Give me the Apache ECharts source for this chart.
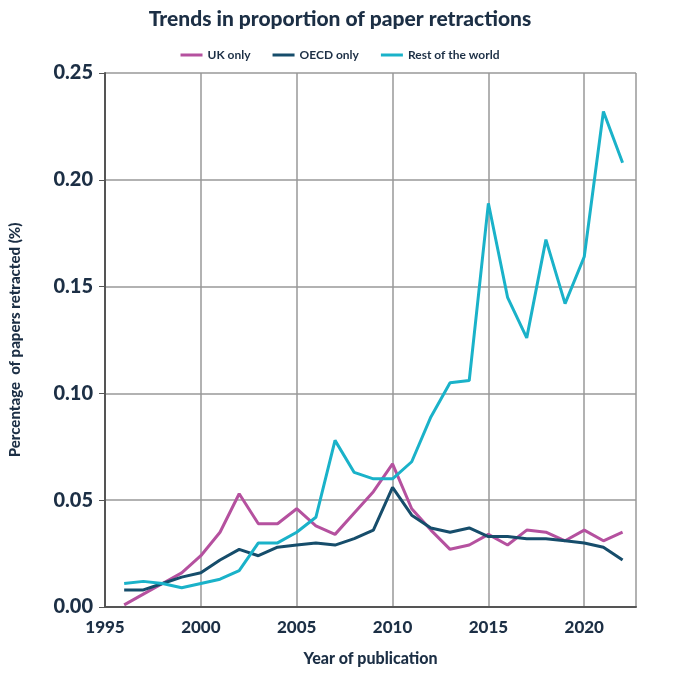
<!DOCTYPE html>
<html>
<head>
<meta charset="utf-8">
<script src="https://cdn.jsdelivr.net/npm/echarts@6/dist/echarts.min.js"></script>
<style>html,body{margin:0;background:#fff}#chart{width:680px;height:680px}</style>
</head>
<body>
<div id="chart"></div>
<script>
// values (% of papers retracted)
const years = [1996, 1997, 1998, 1999, 2000, 2001, 2002, 2003, 2004, 2005, 2006, 2007, 2008, 2009,
  2010, 2011, 2012, 2013, 2014, 2015, 2016, 2017, 2018, 2019, 2020, 2021, 2022];
const ukOnly = [0.001, 0.006, 0.011, 0.016, 0.024, 0.035, 0.053, 0.039, 0.039, 0.046, 0.038, 0.034, 0.044, 0.054,
  0.067, 0.046, 0.036, 0.027, 0.029, 0.034, 0.029, 0.036, 0.035, 0.031, 0.036, 0.031, 0.035];
const oecdOnly = [0.008, 0.008, 0.011, 0.014, 0.016, 0.022, 0.027, 0.024, 0.028, 0.029, 0.030, 0.029, 0.032, 0.036,
  0.056, 0.043, 0.037, 0.035, 0.037, 0.033, 0.033, 0.032, 0.032, 0.031, 0.030, 0.028, 0.022];
const restOfWorld = [0.011, 0.012, 0.011, 0.009, 0.011, 0.013, 0.017, 0.030, 0.030, 0.035, 0.042, 0.078, 0.063, 0.060,
  0.060, 0.068, 0.089, 0.105, 0.106, 0.189, 0.145, 0.126, 0.172, 0.142, 0.164, 0.232, 0.208];

const navy = '#1c2f45';
const pair = (vals) => years.map((y, i) => [y, vals[i]]);
const line = (name, vals, color) => ({
  name, type: 'line', data: pair(vals), symbol: 'none',
  lineStyle: { width: 3, color }, itemStyle: { color }
});

const chart = echarts.init(document.getElementById('chart'));
chart.setOption({
  animation: false,
  textStyle: { fontFamily: 'Lato' },
  title: {
    text: 'Trends in proportion of paper retractions', left: 'center', top: 4,
    textStyle: { fontSize: 21, fontWeight: 900, color: navy, fontFamily: 'Lato' }
  },
  legend: {
    top: 44, left: 'center', itemWidth: 22, itemHeight: 3, itemGap: 22,
    icon: 'rect', textStyle: { fontSize: 12, fontWeight: 'bold', color: navy }
  },
  grid: { left: 98, right: 44, top: 73, bottom: 73 },
  xAxis: {
    type: 'value', min: 1995, max: 2022.7, interval: 5,
    name: 'Year of publication', nameLocation: 'middle', nameGap: 44,
    nameTextStyle: { fontSize: 16, fontWeight: 900, color: navy },
    axisLine: { show: true, lineStyle: { color: '#555', width: 2 } },
    axisTick: { show: false },
    axisLabel: { fontSize: 17, fontWeight: 900, color: navy, margin: 12,
      formatter: v => (v % 5 === 0 ? String(v) : '') },
    splitLine: { show: true, lineStyle: { color: '#999', width: 1.5 } }
  },
  yAxis: {
    type: 'value', min: 0, max: 0.25, interval: 0.05,
    name: 'Percentage  of papers retracted (%)', nameLocation: 'middle', nameGap: 82,
    nameTextStyle: { fontSize: 15, fontWeight: 900, color: navy },
    axisLine: { show: true, lineStyle: { color: '#555', width: 2 } },
    axisTick: { show: true, length: 6, lineStyle: { color: '#555' } },
    axisLabel: { fontSize: 20, fontWeight: 900, color: navy, margin: 12, formatter: v => v.toFixed(2) },
    splitLine: { show: true, lineStyle: { color: '#999', width: 1.5 } }
  },
  series: [
    line('UK only', ukOnly, '#b5519f'),
    line('OECD only', oecdOnly, '#164d6b'),
    line('Rest of the world', restOfWorld, '#1ab2c9')
  ]
});
</script>
</body>
</html>
